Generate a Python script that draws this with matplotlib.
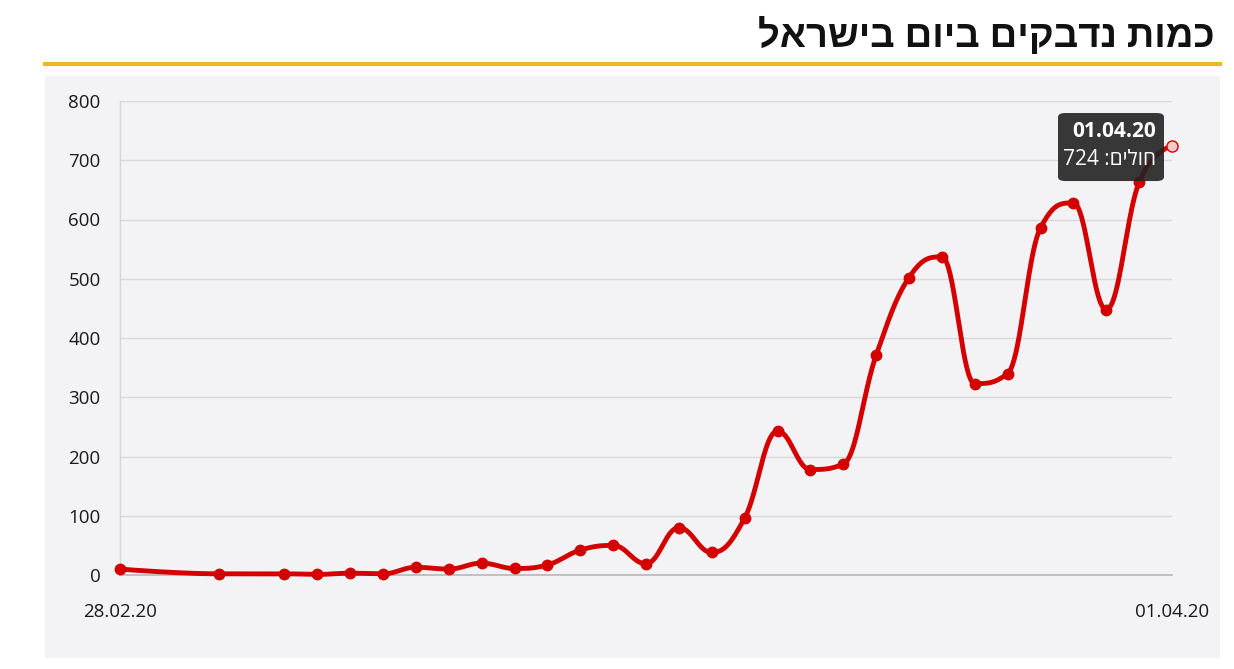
import numpy as np
import matplotlib
matplotlib.use('Agg')
import matplotlib.pyplot as plt
from matplotlib.patches import FancyBboxPatch, Rectangle
from matplotlib.lines import Line2D

# data (day index from 28.02.20)
days = [0, 3, 5, 6, 7, 8, 9, 10, 11, 12, 13, 14, 15, 16, 17, 18, 19, 20,
        21, 22, 23, 24, 25, 26, 27, 28, 29, 30, 31, 32]
cases = [10, 2, 2, 1, 3, 2, 13, 10, 20, 11, 17, 42, 50, 19, 80, 38, 96, 243,
         178, 187, 371, 502, 537, 323, 340, 586, 628, 448, 663, 724]
x_ticks = [0, 32]
x_labels = ['28.02.20', '01.04.20']
y_ticks = [0, 100, 200, 300, 400, 500, 600, 700, 800]
title = 'כמות נדבקים ביום בישראל'
tip_date = '01.04.20'
tip_label = 'חולים'

RED = '#d40000'
W, H = 1234, 669
FONTS = ['Open Sans', 'Liberation Sans', 'DejaVu Sans']
plt.rcParams['font.family'] = FONTS


def rtl(s):
    # matplotlib has no bidi support, so flip hebrew text by hand
    return s[::-1]


def spline(xs, ys, smoothing=1.5, n=40):
    # same control point rule as a highcharts spline series
    xs = np.asarray(xs, float)
    ys = np.asarray(ys, float)
    lcx, lcy = xs.copy(), ys.copy()
    rcx, rcy = xs.copy(), ys.copy()
    d = smoothing + 1
    for i in range(1, len(xs) - 1):
        x, y = xs[i], ys[i]
        last, nxt = ys[i - 1], ys[i + 1]
        lx = (smoothing * x + xs[i - 1]) / d
        ly = (smoothing * y + last) / d
        rx = (smoothing * x + xs[i + 1]) / d
        ry = (smoothing * y + nxt) / d
        corr = (ry - ly) * (rx - x) / (rx - lx) + y - ry
        ly += corr
        ry += corr
        if ly > last and ly > y:
            ly = max(last, y); ry = 2 * y - ly
        elif ly < last and ly < y:
            ly = min(last, y); ry = 2 * y - ly
        if ry > nxt and ry > y:
            ry = max(nxt, y); ly = 2 * y - ry
        elif ry < nxt and ry < y:
            ry = min(nxt, y); ly = 2 * y - ry
        lcx[i], lcy[i], rcx[i], rcy[i] = lx, ly, rx, ry
    t = np.linspace(0, 1, n)[:, None]
    px, py = [], []
    for i in range(1, len(xs)):
        P = np.array([[xs[i - 1], ys[i - 1]], [rcx[i - 1], rcy[i - 1]],
                      [lcx[i], lcy[i]], [xs[i], ys[i]]])
        seg = ((1 - t) ** 3 * P[0] + 3 * (1 - t) ** 2 * t * P[1]
               + 3 * (1 - t) * t ** 2 * P[2] + t ** 3 * P[3])
        px.extend(seg[:, 0]); py.extend(seg[:, 1])
    return np.array(px), np.array(py)


fig = plt.figure(figsize=(W / 100, H / 100), dpi=100)
fig.patch.set_facecolor('white')

# grey panel behind the chart and the yellow rule under the title
fig.add_artist(Rectangle((45 / W, 1 - 658 / H), (1220 - 45) / W, (658 - 76) / H,
                         transform=fig.transFigure, facecolor='#f3f3f5',
                         edgecolor='none', zorder=0))
fig.add_artist(Line2D([45 / W, 1220 / W], [1 - 64 / H, 1 - 64 / H],
                      transform=fig.transFigure, color='#e8b923', lw=3))
fig.text(1215 / W, 1 - 36 / H, rtl(title), ha='right', va='center',
         fontsize=27.5, fontweight='heavy', color='#111111')

ax = fig.add_axes([120 / W, 1 - 575 / H, (1172 - 120) / W, (575 - 101) / H])
ax.set_facecolor('none')
ax.set_xlim(0, 32)
ax.set_ylim(0, 800)
for s in ['top', 'right']:
    ax.spines[s].set_visible(False)
ax.spines['left'].set_color('#d6d6d6')
ax.spines['bottom'].set_color('#b8b8bc')
ax.spines['left'].set_linewidth(1)
ax.spines['bottom'].set_linewidth(1.2)
ax.set_yticks(y_ticks)
ax.set_xticks(x_ticks)
ax.set_xticklabels(x_labels)
ax.tick_params(axis='y', length=0, pad=14, labelsize=13.5, labelcolor='#1a1a1a')
ax.tick_params(axis='x', length=0, pad=20, labelsize=13.5, labelcolor='#1a1a1a')
ax.grid(axis='y', color='#d8d8dc', lw=1)
ax.set_axisbelow(True)

sx, sy = spline(days, cases)
ax.plot(sx, sy, color=RED, lw=3.5, solid_capstyle='round', zorder=3, clip_on=False)
ax.plot(days[:-1], cases[:-1], 'o', color=RED, ms=7.5, zorder=4, clip_on=False)
# hovered last point
ax.plot(days[-1], cases[-1], 'o', mfc='#f4c9c9', mec=RED, mew=1, ms=8,
        zorder=6, clip_on=False)

# tooltip box next to the hovered point
px, py = ax.transData.transform((days[-1], cases[-1]))
bx1 = px - 8
bx0 = bx1 - 106
by1 = py + 33
by0 = by1 - 68
fig.add_artist(FancyBboxPatch((bx0 / W, by0 / H), (bx1 - bx0) / W, (by1 - by0) / H,
                              boxstyle='round,pad=0,rounding_size=0.006',
                              transform=fig.transFigure, facecolor='#222222',
                              edgecolor='none', alpha=0.9, zorder=10))
fig.text((bx1 - 8) / W, (by1 - 18) / H, tip_date, ha='right', va='center',
         fontsize=15, fontweight='bold', color='white', zorder=11)
fig.text((bx1 - 8) / W, (by1 - 46) / H, f'{cases[-1]} :{rtl(tip_label)}',
         ha='right', va='center', fontsize=15, color='white', zorder=11)

fig.savefig('out.png', dpi=100)
